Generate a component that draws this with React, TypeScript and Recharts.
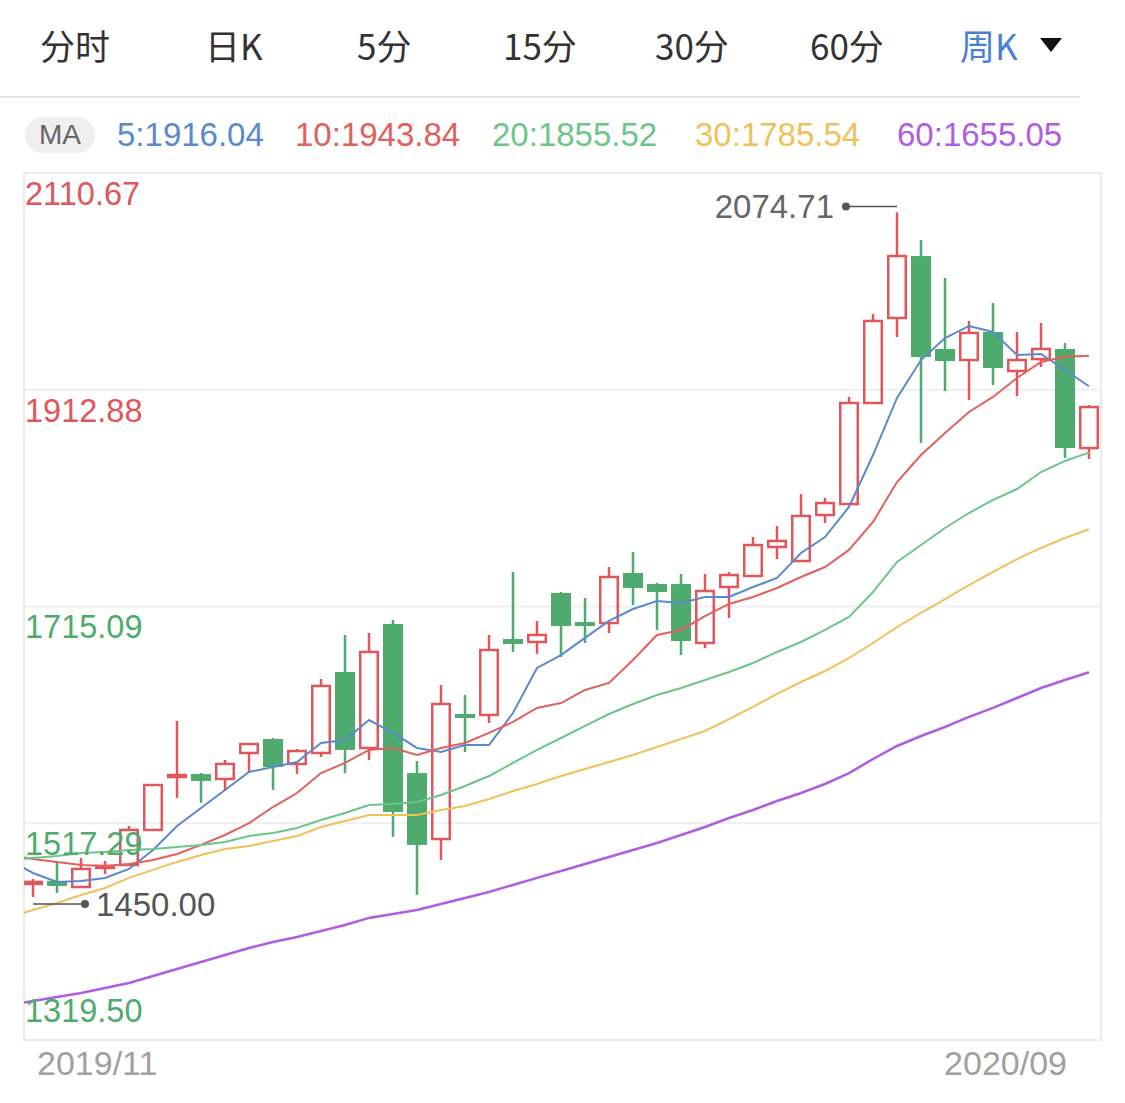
import React from 'react';
import {
  ComposedChart, Bar, Line, XAxis, YAxis, CartesianGrid, ReferenceArea, ReferenceDot,
} from 'recharts';

// weekly K, 2019/11 .. 2020/09 (45 weeks). values.
const opens = [
  1461.9, 1464.6, 1459.1, 1476.5, 1479.2, 1511.2, 1559.5, 1562.2, 1557.7, 1581.4,
  1594.2, 1571.4, 1581.4, 1655.3, 1586.0, 1699.1, 1563.1, 1502.9, 1617.0, 1616.1,
  1685.4, 1682.7, 1727.4, 1700.9, 1700.0, 1745.7, 1735.6, 1735.6, 1681.8, 1732.9,
  1742.9, 1769.4, 1756.6, 1798.6, 1808.6, 1900.8, 1978.4, 2034.9, 1950.1, 1940.0,
  1965.6, 1930.0, 1940.9, 1950.1, 1859.7,
];
const closes = [
  1463.7, 1460.1, 1475.6, 1478.3, 1511.2, 1552.2, 1561.3, 1555.9, 1571.4, 1589.6,
  1568.6, 1583.2, 1642.6, 1584.2, 1673.6, 1527.6, 1497.5, 1626.1, 1615.2, 1675.4,
  1680.9, 1689.1, 1697.3, 1699.1, 1742.0, 1732.0, 1728.3, 1683.6, 1729.2, 1743.8,
  1771.2, 1774.9, 1797.7, 1809.5, 1900.8, 1975.6, 2034.9, 1942.8, 1939.1, 1964.7,
  1932.7, 1940.0, 1950.1, 1859.7, 1897.1,
];
const highs = [
  1466.4, 1482.0, 1485.6, 1482.9, 1514.8, 1553.1, 1610.6, 1563.1, 1575.0, 1590.5,
  1595.1, 1585.1, 1648.9, 1689.1, 1690.9, 1702.8, 1574.1, 1643.5, 1634.3, 1689.1,
  1746.6, 1701.9, 1728.3, 1722.9, 1751.1, 1764.8, 1736.5, 1744.8, 1744.8, 1746.6,
  1778.5, 1788.6, 1817.8, 1814.1, 1906.3, 1982.0, 2074.71, 2049.5, 2014.9, 1975.6,
  1992.0, 1965.6, 1973.8, 1955.5, 1899.0,
];
const lows = [
  1450.0, 1453.7, 1458.2, 1471.0, 1478.3, 1510.3, 1540.4, 1535.8, 1546.7, 1564.1,
  1547.7, 1562.3, 1577.8, 1563.1, 1575.0, 1504.8, 1452.0, 1483.8, 1582.3, 1608.8,
  1673.6, 1671.8, 1669.0, 1681.8, 1690.9, 1716.5, 1693.7, 1670.8, 1677.2, 1704.6,
  1742.0, 1758.4, 1755.7, 1791.3, 1807.7, 1899.9, 1961.0, 1864.3, 1911.7, 1903.5,
  1917.2, 1907.2, 1933.6, 1850.6, 1849.7,
];

// moving averages: first value is the week before the window (line runs in from the left edge)
const ma5 = [
  1483.8, 1471.9, 1463.7, 1464.6, 1467.4, 1475.6, 1492.9, 1514.8, 1531.2, 1547.7,
  1564.1, 1568.6, 1573.2, 1590.5, 1593.3, 1611.5, 1599.7, 1586.0, 1582.3, 1588.7,
  1588.7, 1617.9, 1659.0, 1670.8, 1686.4, 1701.9, 1712.8, 1720.1, 1718.3, 1723.8,
  1723.8, 1732.9, 1741.1, 1763.9, 1778.5, 1805.9, 1853.3, 1905.4, 1940.0, 1960.1,
  1971.1, 1965.6, 1944.6, 1945.5, 1930.9, 1916.04,
];
const ma10 = [
  1488.3, 1484.7, 1482.0, 1479.2, 1478.3, 1480.1, 1483.8, 1489.3, 1497.5, 1506.6,
  1517.5, 1532.1, 1544.9, 1563.1, 1572.3, 1584.2, 1586.0, 1579.6, 1586.0, 1590.5,
  1599.7, 1609.7, 1622.5, 1627.0, 1638.9, 1645.3, 1666.3, 1689.1, 1693.7, 1706.4,
  1717.4, 1723.8, 1732.0, 1742.0, 1751.1, 1766.7, 1792.2, 1828.7, 1853.3, 1873.4,
  1892.6, 1906.3, 1923.6, 1938.2, 1943.0, 1943.84,
];
const ma20 = [
  1483.8, 1485.6, 1487.4, 1490.2, 1491.1, 1492.9, 1493.8, 1495.6, 1497.5, 1500.2,
  1505.7, 1508.4, 1513.0, 1520.3, 1526.7, 1534.0, 1534.9, 1536.7, 1543.1, 1551.3,
  1560.4, 1572.3, 1584.2, 1595.1, 1606.1, 1617.0, 1626.1, 1634.3, 1640.7, 1648.0,
  1655.3, 1663.5, 1673.6, 1682.7, 1693.7, 1705.5, 1728.3, 1755.7, 1771.2, 1786.7,
  1800.4, 1812.3, 1822.3, 1837.8, 1847.9, 1855.52,
];
const ma30 = [
  1430.9, 1438.2, 1444.5, 1451.8, 1458.2, 1467.4, 1474.7, 1482.0, 1488.3, 1493.8,
  1496.6, 1501.1, 1505.7, 1513.9, 1519.4, 1524.8, 1524.8, 1524.8, 1529.4, 1533.1,
  1539.4, 1546.7, 1553.1, 1560.4, 1566.8, 1573.2, 1579.6, 1586.9, 1594.2, 1601.5,
  1612.4, 1623.4, 1635.3, 1646.2, 1656.2, 1668.1, 1681.8, 1696.4, 1709.2, 1721.9,
  1734.7, 1746.6, 1758.4, 1768.5, 1777.6, 1785.54,
];
const ma60 = [
  1351.5, 1355.1, 1358.8, 1362.4, 1367.0, 1371.5, 1377.9, 1384.3, 1390.7, 1397.1,
  1403.5, 1409.0, 1413.5, 1419.0, 1424.5, 1430.9, 1434.5, 1438.2, 1443.6, 1449.1,
  1454.6, 1461.0, 1467.4, 1473.7, 1480.1, 1486.5, 1492.9, 1499.3, 1506.6, 1513.9,
  1522.1, 1529.4, 1537.6, 1544.9, 1553.1, 1563.1, 1575.9, 1587.8, 1596.9, 1605.1,
  1614.3, 1622.5, 1631.6, 1640.7, 1648.0, 1655.05,
];

const yTicks = [1319.5, 1517.29, 1715.09, 1912.88, 2110.67];
const xTickIdx = [1, 45];
const xTickLabels = ['2019/11', '2020/09'];
const tabs = ['分时', '日K', '5分', '15分', '30分', '60分', '周K'];
const maPeriods = [5, 10, 20, 30, 60];

const RED = '#e0565a';
const GREEN = '#4fab6d';
const MA_COLORS = ['#5b89cd', '#e2605d', '#6cc68a', '#f0c15a', '#b05de4'];
const LATIN = '"Liberation Sans", Arial, Helvetica, sans-serif';
const CJK = '"Noto Sans CJK SC", "Liberation Sans", sans-serif';

const X_DOMAIN: [number, number] = [0.625, 45.5];
const MARGIN = { top: 173, right: 24, bottom: 23, left: 24 };

const maSeries = [ma5, ma10, ma20, ma30, ma60];
const rows = ma5.map((_, i) => {
  const row: any = { idx: i, candle: null };
  maPeriods.forEach((p, k) => { row['ma' + p] = maSeries[k][i]; });
  if (i > 0) {
    row.candle = { open: opens[i - 1], close: closes[i - 1], high: highs[i - 1], low: lows[i - 1] };
  }
  return row;
});

const topIdx = highs.indexOf(Math.max(...highs)) + 1;
const botIdx = lows.indexOf(Math.min(...lows)) + 1;
const lastClose = closes[closes.length - 1];

function Candle(props: any) {
  const { x, y, width, height, payload } = props;
  const c = payload && payload.candle;
  if (!c || !isFinite(y) || !isFinite(height)) return null;
  const top = Math.min(y, y + height);
  const k = Math.abs(height) / (c.high - c.low);
  const py = (v: number) => top + (c.high - v) * k;
  const cx = x + width / 2;
  const up = c.close >= c.open;
  const bTop = py(Math.max(c.open, c.close));
  const bH = Math.max(py(Math.min(c.open, c.close)) - bTop, 2);
  if (up) {
    return (
      <g>
        <line x1={cx} x2={cx} y1={py(c.high)} y2={bTop} stroke={RED} strokeWidth={2.5} />
        <line x1={cx} x2={cx} y1={bTop + bH} y2={py(c.low)} stroke={RED} strokeWidth={2.5} />
        <rect x={x + 1.25} y={bTop} width={width - 2.5} height={bH} fill="none" stroke={RED} strokeWidth={2.5} />
      </g>
    );
  }
  return (
    <g>
      <line x1={cx} x2={cx} y1={py(c.high)} y2={py(c.low)} stroke={GREEN} strokeWidth={2.5} />
      <rect x={x} y={bTop} width={width} height={Math.max(bH, 4)} fill={GREEN} />
    </g>
  );
}

function YTick(props: any) {
  const { y, payload } = props;
  const v = payload.value;
  const bottom = v === yTicks[0];
  return (
    <text x={MARGIN.left + 1} y={bottom ? y - 18 : y + 32} fill={v > lastClose ? RED : GREEN}
      fontSize={32.5} fontFamily={LATIN}>
      {v.toFixed(2)}
    </text>
  );
}

function XTick(props: any) {
  const { x, y, payload } = props;
  const i = xTickIdx.indexOf(payload.value);
  const first = i === 0;
  return (
    <text x={first ? x + 4 : x - 22} y={y + 27} textAnchor={first ? 'start' : 'end'}
      fill="#a0a0a0" fontSize={34} fontFamily={LATIN}>
      {xTickLabels[i]}
    </text>
  );
}

function HighMark(props: any) {
  const { cx, cy } = props;
  const yy = cy - 6;
  return (
    <g>
      <line x1={cx} x2={cx - 51} y1={yy} y2={yy} stroke="#555" strokeWidth={1.5} />
      <circle cx={cx - 51} cy={yy} r={4} fill="#555" />
      <text x={cx - 63} y={yy + 12} textAnchor="end" fill="#666" fontSize={33} fontFamily={LATIN}>
        {highs[topIdx - 1].toFixed(2)}
      </text>
    </g>
  );
}

function LowMark(props: any) {
  const { cx, cy } = props;
  const yy = cy + 7;
  return (
    <g>
      <line x1={cx} x2={cx + 52} y1={yy} y2={yy} stroke="#555" strokeWidth={1.5} />
      <circle cx={cx + 52} cy={yy} r={4} fill="#555" />
      <text x={cx + 63} y={yy + 12} fill="#555" fontSize={33} fontFamily={LATIN}>
        {lows[botIdx - 1].toFixed(2)}
      </text>
    </g>
  );
}

const tabLeft = [40, 205, 357, 503, 655, 810, 960];
const maLeft = [117, 295, 492, 695, 897];

export default function App() {
  return (
    <div style={{ position: 'absolute', left: 0, top: 0, width: 1125, height: 1103, background: '#fff' }}>
      <div style={{ position: 'absolute', left: 0, top: 0 }}>
        <ComposedChart width={1125} height={1103} data={rows} margin={MARGIN}>
          <CartesianGrid vertical={false} stroke="#efefef" strokeWidth={2} />
          <ReferenceArea x1={X_DOMAIN[0]} x2={X_DOMAIN[1]} y1={yTicks[0]} y2={yTicks[yTicks.length - 1]}
            fill="none" stroke="#ebebeb" strokeWidth={2} ifOverflow="visible" />
          <XAxis dataKey="idx" type="number" domain={X_DOMAIN} allowDataOverflow ticks={xTickIdx}
            interval={0} axisLine={false} tickLine={false} height={40} tick={(p: any) => <XTick {...p} />} />
          <YAxis type="number" domain={[yTicks[0], yTicks[yTicks.length - 1]]} allowDataOverflow
            ticks={yTicks} interval={0} mirror axisLine={false} tickLine={false}
            tick={(p: any) => <YTick {...p} />} />
          {maPeriods.map((p, k) => (
            <Line key={p} type="linear" dataKey={'ma' + p} stroke={MA_COLORS[k]}
              strokeWidth={k === 4 ? 2.5 : 2} dot={false} activeDot={false} isAnimationActive={false} />
          ))}
          <Bar dataKey={(d: any) => (d.candle ? [d.candle.low, d.candle.high] : null)} barSize={20}
            shape={(p: any) => <Candle {...p} />} isAnimationActive={false} />
          <ReferenceDot x={topIdx} y={highs[topIdx - 1]} r={0} shape={(p: any) => <HighMark {...p} />} />
          <ReferenceDot x={botIdx} y={lows[botIdx - 1]} r={0} shape={(p: any) => <LowMark {...p} />} />
        </ComposedChart>
      </div>

      {tabs.map((t, i) => (
        <div key={t} style={{
          position: 'absolute', left: tabLeft[i], top: 26, fontSize: 35, lineHeight: '38px',
          fontFamily: CJK, color: i === tabs.length - 1 ? '#4a7fd6' : '#333', whiteSpace: 'nowrap',
        }}>{t}</div>
      ))}
      <div style={{
        position: 'absolute', left: 1040, top: 38, width: 0, height: 0,
        borderLeft: '11px solid transparent', borderRight: '11px solid transparent', borderTop: '14px solid #111',
      }} />
      <div style={{ position: 'absolute', left: 0, top: 96, width: 1080, height: 2, background: '#e6e6e6' }} />

      <div style={{
        position: 'absolute', left: 25, top: 117, width: 70, height: 36, borderRadius: 18, background: '#efefef',
        color: '#666', fontFamily: LATIN, fontSize: 28, lineHeight: '36px', textAlign: 'center',
      }}>MA</div>
      {maPeriods.map((p, k) => (
        <div key={p} style={{
          position: 'absolute', left: maLeft[k], top: 118, fontSize: 33, lineHeight: '33px',
          fontFamily: LATIN, color: MA_COLORS[k], whiteSpace: 'nowrap',
        }}>{p}:{maSeries[k][maSeries[k].length - 1].toFixed(2)}</div>
      ))}
    </div>
  );
}
